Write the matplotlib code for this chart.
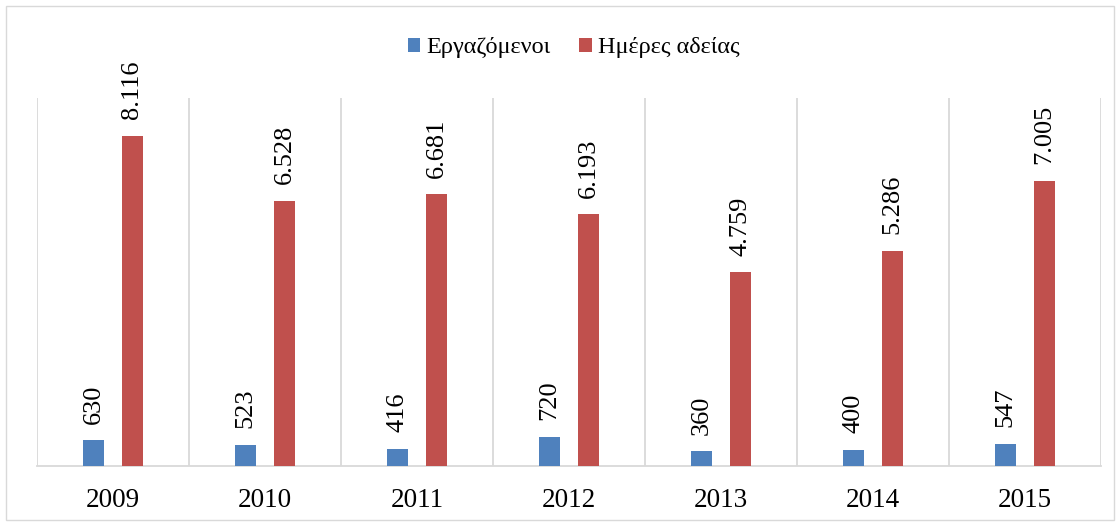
import matplotlib
matplotlib.use("Agg")
import matplotlib.pyplot as plt
import numpy as np

years = ["2009", "2010", "2011", "2012", "2013", "2014", "2015"]
employees = [630, 523, 416, 720, 360, 400, 547]
leave_days = [8116, 6528, 6681, 6193, 4759, 5286, 7005]
series_names = ["Εργαζόμενοι", "Ημέρες αδείας"]

plt.rcParams['font.family'] = ['Liberation Serif', 'DejaVu Serif']

W, H = 1118, 523
fig = plt.figure(figsize=(W / 100, H / 100), dpi=100)
ax = fig.add_axes([37 / W, (H - 466) / H, (1101 - 37) / W, (466 - 98) / H])

x = np.arange(len(years))
bw = 0.138
off = 0.128
blue = "#4F81BD"
red = "#C0504D"
b1 = ax.bar(x - off, employees, bw, color=blue, label=series_names[0], zorder=3)
b2 = ax.bar(x + off, leave_days, bw, color=red, label=series_names[1], zorder=3)

def fmt(v):
    return f"{v:,}".replace(",", ".")

for bars, vals in ((b1, employees), (b2, leave_days)):
    for rect, v in zip(bars, vals):
        ax.annotate(fmt(v), (rect.get_x() + rect.get_width() / 2, rect.get_height()),
                    xytext=(0, 12), textcoords="offset points", rotation=90,
                    ha="center", va="bottom", fontsize=19, color="black")

ax.set_xlim(-0.5, len(years) - 0.5)
ax.set_ylim(0, 9050)
ax.set_yticks([])
ax.set_xticks(x)
ax.set_xticklabels(years, fontsize=19.5)
ax.tick_params(axis="x", length=0, pad=15.5)
for b in np.arange(-0.5, len(years), 1.0):
    ax.axvline(b, color="#D9D9D9", lw=1.3, zorder=1)
for s in ["top", "right", "left"]:
    ax.spines[s].set_visible(False)
ax.spines["bottom"].set_color("#D9D9D9")
ax.spines["bottom"].set_linewidth(1.3)

fig.legend(handles=[b1, b2], labels=series_names, loc="center",
           bbox_to_anchor=(573.5 / W, (H - 48) / H), ncol=2, frameon=False,
           fontsize=17.5, handlelength=0.5, handleheight=0.5, handletextpad=0.25,
           columnspacing=1.2)

border = plt.Rectangle((6 / W, 3 / H), (W - 10) / W, (H - 9) / H, transform=fig.transFigure,
                       fill=False, edgecolor="#D9D9D9", lw=1.0)
fig.add_artist(border)

fig.savefig("out.png", dpi=100)
